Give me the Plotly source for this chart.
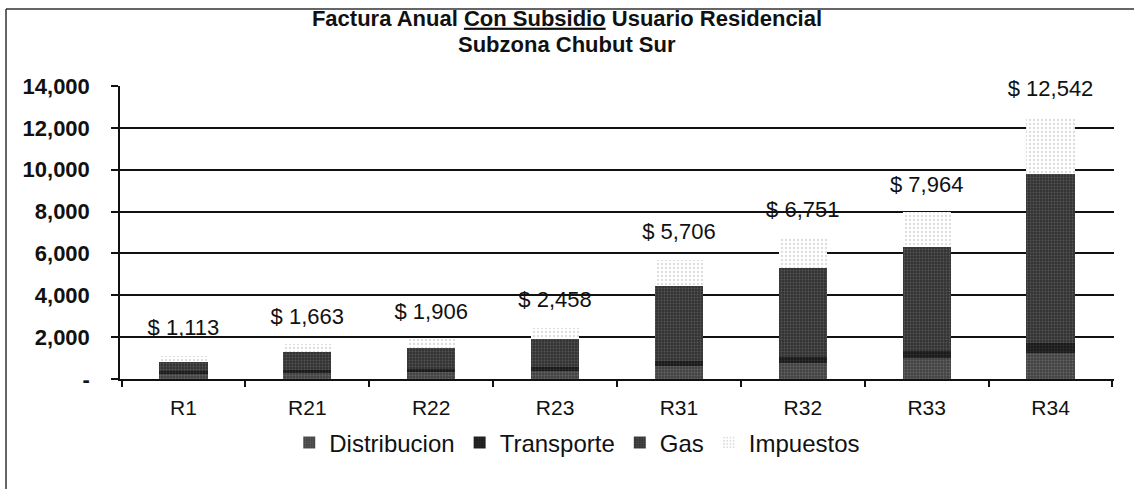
import plotly.graph_objects as go

categories = ["R1", "R21", "R22", "R23", "R31", "R32", "R33", "R34"]
distribucion = [250, 280, 330, 400, 600, 750, 1000, 1250]
transporte = [120, 130, 150, 180, 240, 280, 330, 470]
gas = [440, 880, 1000, 1330, 3600, 4270, 4970, 8080]
impuestos = [303, 373, 426, 548, 1266, 1451, 1664, 2742]
totals = [1113, 1663, 1906, 2458, 5706, 6751, 7964, 12542]
total_labels = ["$ 1,113", "$ 1,663", "$ 1,906", "$ 2,458", "$ 5,706", "$ 6,751", "$ 7,964", "$ 12,542"]
y_tick_vals = [0, 2000, 4000, 6000, 8000, 10000, 12000, 14000]
y_tick_text = ["-", "2,000", "4,000", "6,000", "8,000", "10,000", "12,000", "14,000"]
title_line1 = "Factura Anual <u>Con Subsidio</u> Usuario Residencial"
title_line2 = "Subzona Chubut Sur"

FONT = "Liberation Sans, Arial, sans-serif"

fig = go.Figure()
fig.add_trace(go.Bar(
    x=categories, y=distribucion, name="Distribucion",
    marker=dict(color="#4a4a4a", line=dict(width=0),
                pattern=dict(shape=".", fgcolor="#8c8c8c", bgcolor="#424242", size=3, solidity=0.3)),
))
fig.add_trace(go.Bar(
    x=categories, y=transporte, name="Transporte",
    marker=dict(color="#1e1e1e", line=dict(width=0),
                pattern=dict(shape=".", fgcolor="#4a4a4a", bgcolor="#1a1a1a", size=3, solidity=0.3)),
))
fig.add_trace(go.Bar(
    x=categories, y=gas, name="Gas",
    marker=dict(color="#3c3c3c", line=dict(width=0),
                pattern=dict(shape=".", fgcolor="#7a7a7a", bgcolor="#333333", size=3, solidity=0.3)),
))
fig.add_trace(go.Bar(
    x=categories, y=impuestos, name="Impuestos",
    marker=dict(color="#f4f4f4", line=dict(width=0),
                pattern=dict(shape=".", fgcolor="#b8b8b8", bgcolor="#ffffff", size=4, solidity=0.25)),
))
fig.add_trace(go.Scatter(
    x=categories, y=totals, mode="markers+text", text=total_labels,
    textposition="top center", showlegend=False, hoverinfo="skip", cliponaxis=False,
    marker=dict(size=22, color="rgba(0,0,0,0)"),
    textfont=dict(family=FONT, size=22, color="#111111"),
))

fig.update_layout(
    width=1134, height=489,
    barmode="stack", bargap=0.61,
    paper_bgcolor="white", plot_bgcolor="white",
    margin=dict(l=120, r=20, t=86, b=110),
    font=dict(family=FONT, color="#111111"),
    title=dict(
        text=title_line1,
        x=0.5, xanchor="center", xref="container",
        y=1 - 18 / 489, yanchor="middle", yref="container",
        font=dict(family=FONT, size=22, color="#111111", weight="bold"),
    ),
    annotations=[
        dict(text=title_line2, xref="paper", yref="paper",
             x=(567 - 120) / 994, y=(379 - 45) / 293, xanchor="center", yanchor="middle",
             showarrow=False,
             font=dict(family=FONT, size=22, color="#111111", weight="bold")),
    ],
    showlegend=True,
    legend=dict(
        orientation="h", traceorder="normal",
        x=0.46, xanchor="center", y=-0.218, yanchor="middle",
        font=dict(family=FONT, size=24, color="#111111"),
        bgcolor="rgba(0,0,0,0)",
    ),
    xaxis=dict(
        type="category", showgrid=False,
        showline=True, linecolor="#111111", linewidth=1.5,
        ticks="outside", tickson="boundaries", ticklen=6, tickcolor="#111111", tickwidth=1.5,
        ticklabelstandoff=9,
        tickfont=dict(family=FONT, size=21, color="#111111"),
    ),
    yaxis=dict(
        range=[0, 14000], tickvals=y_tick_vals, ticktext=y_tick_text,
        showgrid=True, gridcolor="#111111", gridwidth=1.5,
        showline=True, linecolor="#111111", linewidth=1.5,
        ticks="outside", ticklen=7, tickcolor="#111111", tickwidth=1.5,
        ticklabelstandoff=17,
        tickfont=dict(family=FONT, size=22, color="#111111", weight="bold"),
        zeroline=False,
    ),
    shapes=[
        dict(type="line", xref="paper", yref="paper",
             x0=(6 - 120) / 994, x1=(6 - 120) / 994, y0=(379 - 9) / 293, y1=(379 - 495) / 293,
             line=dict(color="#333333", width=1.5)),
        dict(type="line", xref="paper", yref="paper",
             x0=(6 - 120) / 994, x1=(1140 - 120) / 994, y0=(379 - 9) / 293, y1=(379 - 9) / 293,
             line=dict(color="#333333", width=1.5)),
    ],
)

fig.write_html("out.html", config={"displayModeBar": False},
               post_script="document.body.style.margin='0';")
